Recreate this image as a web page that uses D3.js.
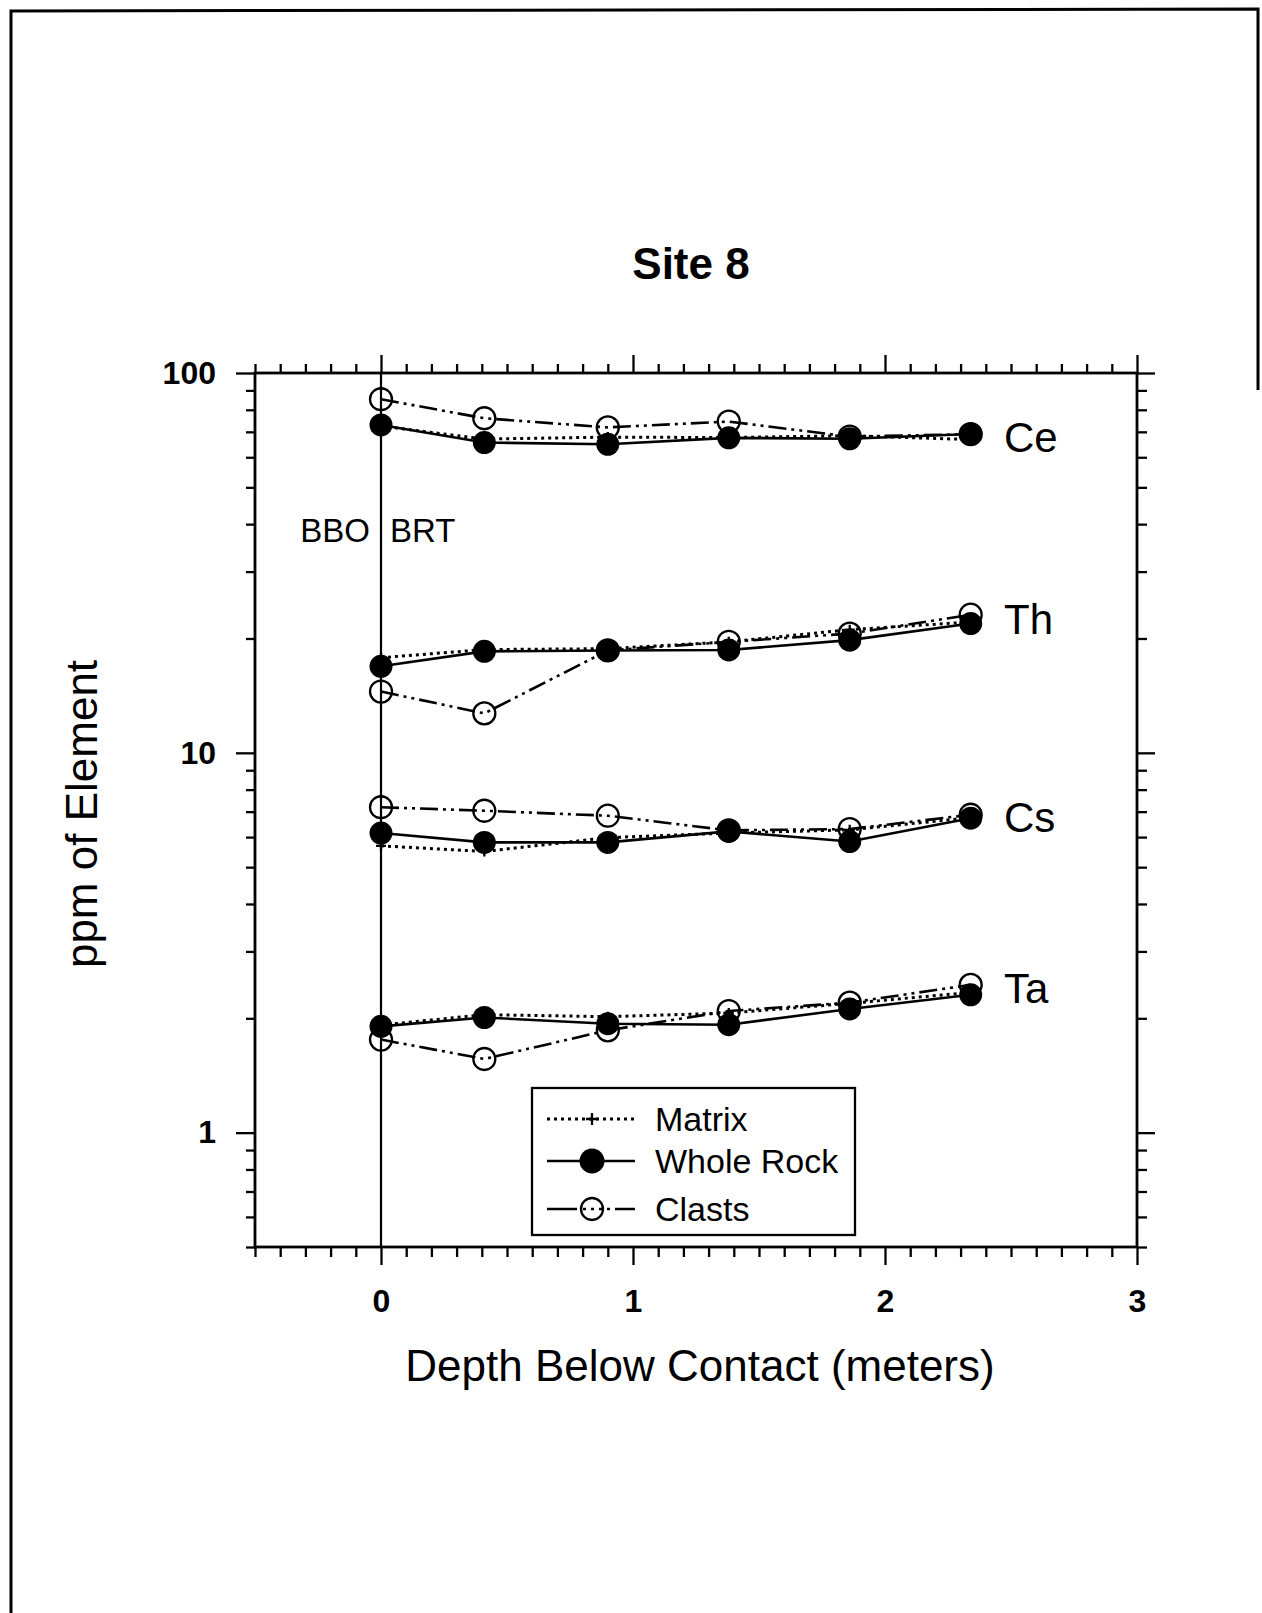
<!DOCTYPE html>
<html lang="en">
<head>
<meta charset="UTF-8">
<script src="https://d3js.org/d3.v7.min.js"></script>
<title>Site 8</title>
<style>
body { margin: 0; background: #fff; }
svg { display: block; font-family: "Liberation Sans", Arial, sans-serif; }
</style>
</head>
<body>
<div id="chart"></div>
<script>
// sample depths (m below contact)
var depth = [0, 0.41, 0.9, 1.38, 1.86, 2.34];

var elements = ["Ce", "Th", "Cs", "Ta"];

var ceMatrix = [72.5, 67.0, 67.8, 67.6, 68.4, 66.8];
var ceWhole  = [73.0, 65.6, 64.9, 67.5, 67.1, 69.1];
var ceClasts = [85.3, 76.0, 71.9, 74.5, 68.0, 69.0];

var thMatrix = [17.8, 18.7, 18.8, 19.6, 21.1, 22.1];
var thWhole  = [16.9, 18.5, 18.6, 18.66, 19.8, 21.9];
var thClasts = [14.5, 12.7, 18.6, 19.6, 20.6, 23.1];

var csMatrix = [5.69, 5.50, 5.98, 6.15, 6.27, 6.75];
var csWhole  = [6.15, 5.81, 5.81, 6.21, 5.84, 6.73];
var csClasts = [7.19, 7.04, 6.83, 6.25, 6.30, 6.87];

var taMatrix = [1.92, 2.045, 2.02, 2.065, 2.19, 2.34];
var taWhole  = [1.905, 2.01, 1.936, 1.924, 2.117, 2.307];
var taClasts = [1.758, 1.563, 1.86, 2.09, 2.2, 2.45];

// where the element names sit (ppm)
var labelValues = [67.9, 22.5, 6.77, 2.40];

var xTickLabels = [0, 1, 2, 3];
var yTickLabels = [1, 10, 100];

var W = 1262, H = 1613;
var pLeft = 255, pRight = 1137, pTop = 373, pBottom = 1247;

var svg = d3.select("#chart").append("svg")
    .attr("width", W)
    .attr("height", H);

svg.append("rect").attr("width", W).attr("height", H).attr("fill", "#fff");

// page border (scanned sheet)
svg.append("path")
    .attr("d", "M11,1613 L11,11 L1258,9 L1258,390")
    .attr("fill", "none")
    .attr("stroke", "#000")
    .attr("stroke-width", 3);

var x = d3.scaleLinear().domain([-0.5, 3]).range([pLeft, pRight]);
var y = d3.scaleLog().domain([0.5, 100]).range([pBottom, pTop]);

var xMinor = d3.range(-5, 31).map(function(i) { return i / 10; })
    .filter(function(v) { return Math.abs(v - Math.round(v)) > 1e-6; });
var yMinor = [0.5, 0.6, 0.7, 0.8, 0.9, 2, 3, 4, 5, 6, 7, 8, 9, 20, 30, 40, 50, 60, 70, 80, 90];

function styleAxis(g) {
    g.select(".domain").remove();
    g.selectAll("line").attr("stroke", "#000").attr("stroke-width", 2.3);
    g.selectAll("text").attr("fill", "#000");
}

// top
svg.append("g").attr("transform", "translate(0," + pTop + ")")
    .call(d3.axisTop(x).tickValues(xMinor).tickSize(9).tickFormat("")).call(styleAxis);
svg.append("g").attr("transform", "translate(0," + pTop + ")")
    .call(d3.axisTop(x).tickValues(xTickLabels).tickSize(18).tickFormat("")).call(styleAxis);
// bottom
svg.append("g").attr("transform", "translate(0," + pBottom + ")")
    .call(d3.axisBottom(x).tickValues(xMinor).tickSize(10).tickFormat("")).call(styleAxis);
svg.append("g").attr("transform", "translate(0," + pBottom + ")")
    .call(d3.axisBottom(x).tickValues(xTickLabels).tickSize(18).tickPadding(24).tickFormat(d3.format("d")))
    .call(styleAxis)
    .selectAll("text").attr("font-size", 32).attr("font-weight", "bold")
    .attr("font-family", "'Liberation Sans', Arial, sans-serif");
// left
svg.append("g").attr("transform", "translate(" + pLeft + ",0)")
    .call(d3.axisLeft(y).tickValues(yMinor).tickSize(9).tickFormat("")).call(styleAxis);
svg.append("g").attr("transform", "translate(" + pLeft + ",0)")
    .call(d3.axisLeft(y).tickValues(yTickLabels).tickSize(19).tickPadding(20).tickFormat(d3.format("d")))
    .call(styleAxis)
    .selectAll("text").attr("font-size", 32).attr("font-weight", "bold")
    .attr("font-family", "'Liberation Sans', Arial, sans-serif");
// right
svg.append("g").attr("transform", "translate(" + pRight + ",0)")
    .call(d3.axisRight(y).tickValues(yMinor).tickSize(10).tickFormat("")).call(styleAxis);
svg.append("g").attr("transform", "translate(" + pRight + ",0)")
    .call(d3.axisRight(y).tickValues(yTickLabels).tickSize(18).tickFormat("")).call(styleAxis);

// frame
svg.append("rect")
    .attr("x", pLeft).attr("y", pTop)
    .attr("width", pRight - pLeft).attr("height", pBottom - pTop)
    .attr("fill", "none").attr("stroke", "#000").attr("stroke-width", 2.8);

// contact line
svg.append("line")
    .attr("x1", x(0)).attr("x2", x(0))
    .attr("y1", pTop).attr("y2", pBottom)
    .attr("stroke", "#000").attr("stroke-width", 2.2);

svg.append("text").text("BBO")
    .attr("x", x(0) - 11).attr("y", 542)
    .attr("text-anchor", "end").attr("font-size", 33);
svg.append("text").text("BRT")
    .attr("x", x(0) + 9).attr("y", 542)
    .attr("font-size", 33);

// series
var styles = {
    Matrix: { dash: "3,4", width: 3 },
    Whole:  { dash: null, width: 2.6 },
    Clasts: { dash: "18,5,3,5,3,5", width: 2.6 }
};

var series = [
    { kind: "Matrix", values: ceMatrix }, { kind: "Whole", values: ceWhole }, { kind: "Clasts", values: ceClasts },
    { kind: "Matrix", values: thMatrix }, { kind: "Whole", values: thWhole }, { kind: "Clasts", values: thClasts },
    { kind: "Matrix", values: csMatrix }, { kind: "Whole", values: csWhole }, { kind: "Clasts", values: csClasts },
    { kind: "Matrix", values: taMatrix }, { kind: "Whole", values: taWhole }, { kind: "Clasts", values: taClasts }
];

var line = d3.line()
    .x(function(d) { return x(d[0]); })
    .y(function(d) { return y(d[1]); });

function pts(vals) {
    return depth.map(function(d, i) { return [d, vals[i]]; });
}

series.forEach(function(s) {
    svg.append("path")
        .datum(pts(s.values))
        .attr("d", line)
        .attr("fill", "none")
        .attr("stroke", "#000")
        .attr("stroke-width", styles[s.kind].width)
        .attr("stroke-dasharray", styles[s.kind].dash);
});

// markers: open circles first, then filled, then crosses
series.filter(function(s) { return s.kind == "Clasts"; }).forEach(function(s) {
    svg.selectAll(null).data(pts(s.values)).enter().append("circle")
        .attr("cx", function(d) { return x(d[0]); })
        .attr("cy", function(d) { return y(d[1]); })
        .attr("r", 11)
        .attr("fill", "none").attr("stroke", "#000").attr("stroke-width", 2.3);
});
series.filter(function(s) { return s.kind == "Whole"; }).forEach(function(s) {
    svg.selectAll(null).data(pts(s.values)).enter().append("circle")
        .attr("cx", function(d) { return x(d[0]); })
        .attr("cy", function(d) { return y(d[1]); })
        .attr("r", 11.5)
        .attr("fill", "#000");
});
series.filter(function(s) { return s.kind == "Matrix"; }).forEach(function(s) {
    svg.selectAll(null).data(pts(s.values)).enter().append("path")
        .attr("d", function(d) {
            var cx = x(d[0]), cy = y(d[1]);
            return "M" + (cx - 5) + "," + cy + "H" + (cx + 5) + "M" + cx + "," + (cy - 5) + "V" + (cy + 5);
        })
        .attr("stroke", "#000").attr("stroke-width", 2.3);
});

// element names
elements.forEach(function(e, i) {
    svg.append("text").text(e)
        .attr("x", 1004).attr("y", y(labelValues[i]))
        .attr("dy", "0.36em")
        .attr("font-size", 42);
});

// titles
svg.append("text").text("Site 8")
    .attr("x", 691).attr("y", 279)
    .attr("text-anchor", "middle")
    .attr("font-size", 44).attr("font-weight", "bold");

svg.append("text").text("Depth Below Contact (meters)")
    .attr("x", 700).attr("y", 1381)
    .attr("text-anchor", "middle")
    .attr("font-size", 44);

svg.append("text").text("ppm of Element")
    .attr("transform", "translate(97,814) rotate(-90)")
    .attr("text-anchor", "middle")
    .attr("font-size", 44);

// legend
var legend = svg.append("g");
legend.append("rect")
    .attr("x", 532).attr("y", 1088)
    .attr("width", 323).attr("height", 147)
    .attr("fill", "#fff").attr("stroke", "#000").attr("stroke-width", 2.3);

var legendNames = ["Matrix", "Whole Rock", "Clasts"];
var legendKinds = ["Matrix", "Whole", "Clasts"];
var legendDash = ["3,4", null, "30,6,3,5,3,5,3,5,3,5"];
var rowY = [1119, 1161, 1209];

legendKinds.forEach(function(k, i) {
    var ly = rowY[i];
    legend.append("line")
        .attr("x1", 547).attr("x2", 635)
        .attr("y1", ly).attr("y2", ly)
        .attr("stroke", "#000")
        .attr("stroke-width", styles[k].width)
        .attr("stroke-dasharray", legendDash[i]);
    if (k == "Matrix") {
        legend.append("path")
            .attr("d", "M586," + ly + "H598M592," + (ly - 6) + "V" + (ly + 6))
            .attr("stroke", "#000").attr("stroke-width", 2.3);
    } else if (k == "Whole") {
        legend.append("circle").attr("cx", 592).attr("cy", ly).attr("r", 12.5).attr("fill", "#000");
    } else {
        legend.append("circle").attr("cx", 592).attr("cy", ly).attr("r", 11)
            .attr("fill", "none").attr("stroke", "#000").attr("stroke-width", 2.3);
    }
    legend.append("text").text(legendNames[i])
        .attr("x", 655).attr("y", ly + 12)
        .attr("font-size", 34);
});
</script>
</body>
</html>
